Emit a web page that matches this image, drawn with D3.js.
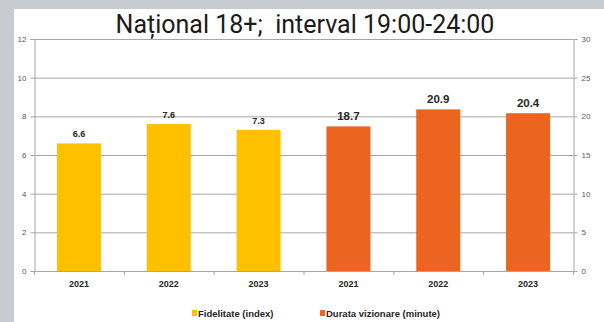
<!DOCTYPE html>
<html><head><meta charset="utf-8">
<script src="https://cdn.jsdelivr.net/npm/d3@7"></script>
<style>
html,body{margin:0;padding:0;background:#c8cbcf;}
svg{display:block;}
</style></head>
<body>
<script>
const categories = ["2021","2022","2023","2021","2022","2023"];
const fidelitate = [6.6, 7.6, 7.3];
const durata = [18.7, 20.9, 20.4];
const leftTicks = [0,2,4,6,8,10,12];
const rightTicks = [0,5,10,15,20,25,30];
const seriesNames = ["Fidelitate (index)", "Durata vizionare (minute)"];
const colors = ["#ffc000", "#eb6420"];

const W = 604, H = 322;
const svg = d3.select("body").append("svg").attr("width", W).attr("height", H);
svg.append("rect").attr("x",0).attr("y",0).attr("width",W).attr("height",H).attr("fill","#c8cbcf");
svg.append("rect").attr("x",14).attr("y",9).attr("width",W-14).attr("height",H-9).attr("fill","#fff");

const m = {l:34, r:31, t:39, b:51};
const x = d3.scaleBand().domain(d3.range(categories.length)).range([m.l, W-m.r]).paddingInner(0.51).paddingOuter(0.255);
const xb = d3.scaleBand().domain(d3.range(categories.length)).range([m.l, W-m.r]);
const yL = d3.scaleLinear().domain([0,12]).range([H-m.b, m.t]);
const yR = d3.scaleLinear().domain([0,30]).range([H-m.b, m.t]);

const gridColor = "#a6a6a6";
svg.append("g").selectAll("line").data(leftTicks.filter(d=>d>0)).join("line")
  .attr("x1", m.l).attr("x2", W-m.r).attr("y1", d=>yL(d)+0.5).attr("y2", d=>yL(d)+0.5)
  .attr("stroke", gridColor).attr("stroke-width",1);

const axL = d3.axisLeft(yL).tickValues(leftTicks).tickSize(4).tickPadding(4);
const gL = svg.append("g").attr("transform",`translate(${m.l+0.5},0)`).call(axL);
const axR = d3.axisRight(yR).tickValues(rightTicks).tickSize(4).tickPadding(4);
const gR = svg.append("g").attr("transform",`translate(${W-m.r+0.5},0)`).call(axR);
[gL,gR].forEach(g=>{
  g.select(".domain").attr("stroke",gridColor);
  g.selectAll(".tick line").attr("stroke",gridColor);
  g.selectAll(".tick text").attr("fill","#595959").style("font-family","Liberation Sans, Arial, sans-serif").style("font-size","8px");
});

const gB = svg.append("g");
gB.append("line").attr("x1",m.l).attr("x2",W-m.r).attr("y1",yL(0)+0.5).attr("y2",yL(0)+0.5).attr("stroke",gridColor);
gB.selectAll("line.t").data(d3.range(categories.length+1)).join("line").attr("class","t")
  .attr("x1", i=> (i<categories.length? xb(i): W-m.r)+0.5).attr("x2", i=>(i<categories.length? xb(i): W-m.r)+0.5)
  .attr("y1", yL(0)).attr("y2", yL(0)+4).attr("stroke",gridColor);
gB.selectAll("text").data(categories).join("text")
  .attr("x",(d,i)=>xb(i)+xb.bandwidth()/2).attr("y",yL(0)+16)
  .attr("text-anchor","middle").attr("fill","#262626")
  .style("font-family","Liberation Sans, Arial, sans-serif").style("font-size","9px").style("font-weight","bold")
  .text(d=>d);

const bars = fidelitate.map((v,i)=>({i, v, y:yL(v), c:colors[0], fs:9}))
  .concat(durata.map((v,i)=>({i:i+3, v, y:yR(v), c:colors[1], fs:11.5})));
svg.append("g").selectAll("rect").data(bars).join("rect")
  .attr("x",d=>x(d.i)).attr("width",x.bandwidth())
  .attr("y",d=>d.y).attr("height",d=>yL(0)-d.y).attr("fill",d=>d.c);
svg.append("g").selectAll("text").data(bars).join("text")
  .attr("x",d=>x(d.i)+x.bandwidth()/2).attr("y",d=>d.y-6)
  .attr("text-anchor","middle").attr("fill","#262626")
  .style("font-family","Liberation Sans, Arial, sans-serif").style("font-weight","bold")
  .style("font-size",d=>d.fs+"px")
  .text(d=>d.v.toFixed(1));

svg.append("text").attr("x",305).attr("y",33).attr("text-anchor","middle")
  .attr("fill","#1a1a1a").style("font-family","Roboto, sans-serif").style("font-size","25px")
  .style("white-space","pre").text("Național 18+;  interval 19:00-24:00");

const leg = svg.append("g");
const legX = [192, 320];
seriesNames.forEach((n,i)=>{
  leg.append("rect").attr("x",legX[i]).attr("y",310).attr("width",5).attr("height",6).attr("fill",colors[i]);
  leg.append("text").attr("x",legX[i]+6).attr("y",316.5).attr("fill","#262626")
    .style("font-family","Liberation Sans Narrow, Arial Narrow, Liberation Sans, sans-serif")
    .style("font-size","9.5px").style("font-weight","bold").text(n);
});
</script>
</body></html>
